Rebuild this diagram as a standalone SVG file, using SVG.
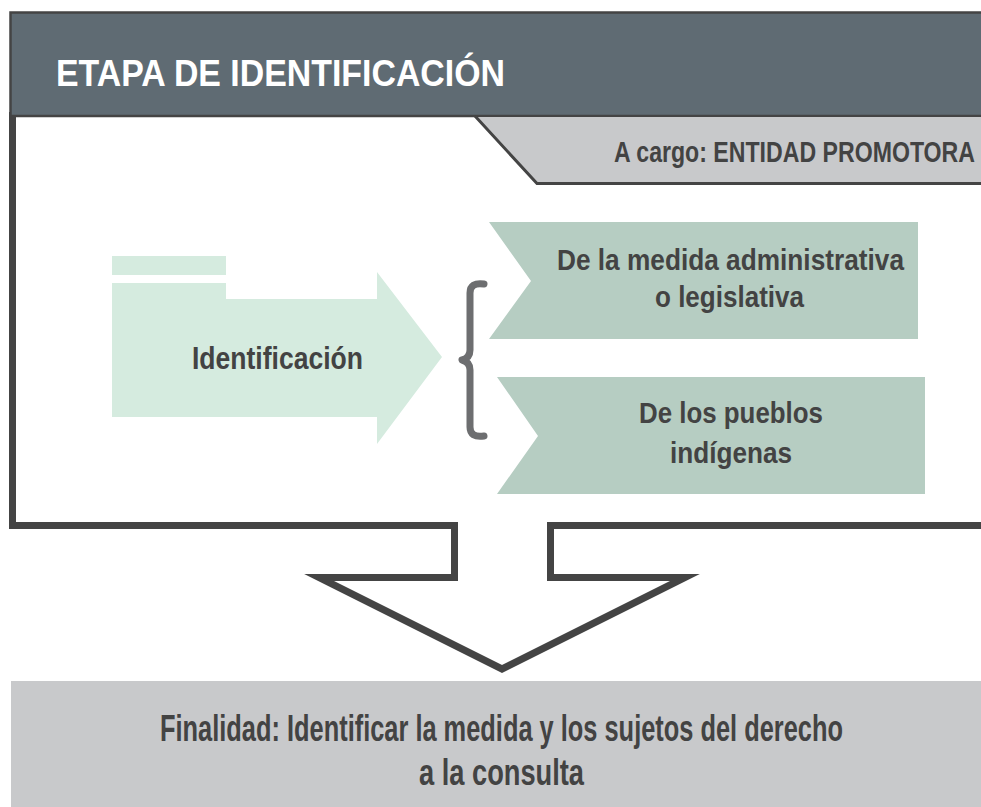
<svg xmlns="http://www.w3.org/2000/svg" width="981" height="807" viewBox="0 0 981 807">
<style>
  .t { font-family: "Liberation Sans", Arial, sans-serif; font-weight: bold; fill: #434343; }
  .title { fill: #ffffff; }
  .line { fill: none; stroke: #444444; }
</style>
<rect x="0" y="0" width="981" height="807" fill="#ffffff"/>
<g id="frame">
  <path class="line" stroke-width="7" stroke-miterlimit="10" d="M990,525.5 H550.5 V577.5 H685 L502,669 L319,577.5 H454.5 V525.5 H12.5 V112"/>
</g>
<g id="header">
  <rect x="10.5" y="12.5" width="980" height="103.5" fill="#5f6b73" stroke="#444444" stroke-width="2.5"/>
  <text class="t title" x="56" y="86" font-size="36" textLength="449" lengthAdjust="spacingAndGlyphs">ETAPA DE IDENTIFICACIÓN</text>
</g>
<g id="responsable">
  <polygon points="475,117 537,183.5 990,183.5 990,117" fill="#c8c9cb"/>
  <polyline class="line" stroke-width="3" points="475,116 537,183.5 990,183.5"/>
  <text class="t" x="614" y="162" font-size="29" textLength="361" lengthAdjust="spacingAndGlyphs">A cargo: ENTIDAD PROMOTORA</text>
</g>
<g id="identificacion">
  <rect x="112" y="256" width="114" height="19" fill="#d5ebdf"/>
  <polygon points="112,283 226,283 226,299 377,299 377,272 442,357 377,444 377,417 112,417" fill="#d5ebdf"/>
  <text class="t" x="192" y="369" font-size="31" textLength="171" lengthAdjust="spacingAndGlyphs">Identificación</text>
</g>
<g id="connectors">
  <path d="M484,284 Q470,282 470,293 V350 Q470,358 462,360 Q470,362 470,370 V427 Q470,438 484,436" fill="none" stroke="#6d6e70" stroke-width="7" stroke-linecap="round" stroke-linejoin="round"/>
</g>
<g id="medida">
  <polygon points="489,222 918,222 918,339 489,339 531,281" fill="#b6cdc2"/>
  <text class="t" x="557" y="270" font-size="29" textLength="347" lengthAdjust="spacingAndGlyphs">De la medida administrativa</text>
  <text class="t" x="655" y="307" font-size="29" textLength="149" lengthAdjust="spacingAndGlyphs">o legislativa</text>
</g>
<g id="pueblos">
  <polygon points="497,377 925,377 925,494 497,494 538,436" fill="#b6cdc2"/>
  <text class="t" x="639" y="423" font-size="29" textLength="184" lengthAdjust="spacingAndGlyphs">De los pueblos</text>
  <text class="t" x="670" y="463" font-size="29" textLength="122" lengthAdjust="spacingAndGlyphs">indígenas</text>
</g>
<g id="finalidad">
  <rect x="11" y="681" width="970" height="126" fill="#c8c9cb"/>
  <text class="t" x="160" y="741" font-size="36" textLength="683" lengthAdjust="spacingAndGlyphs">Finalidad: Identificar la medida y los sujetos del derecho</text>
  <text class="t" x="419" y="785" font-size="36" textLength="165" lengthAdjust="spacingAndGlyphs">a la consulta</text>
</g>
</svg>
